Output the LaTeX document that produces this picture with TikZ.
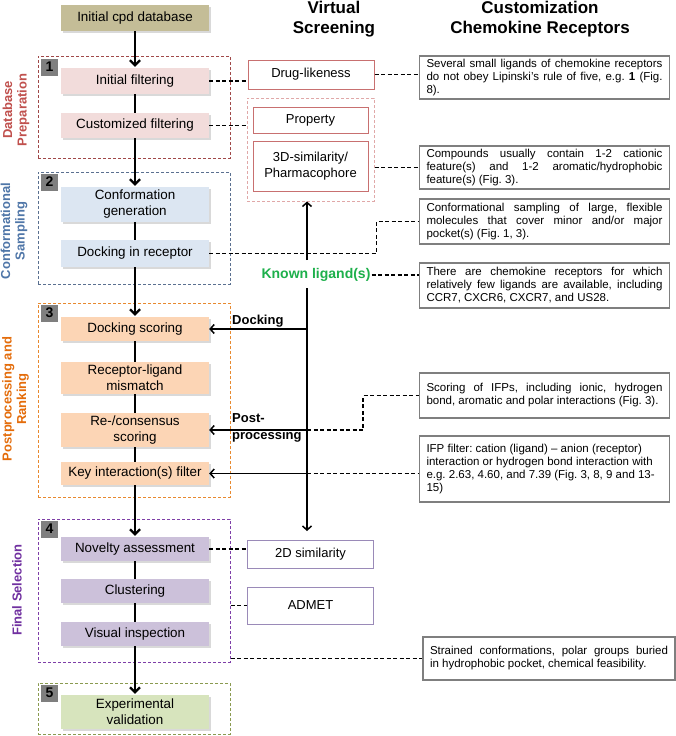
\documentclass[tikz,border=0pt]{standalone}
\usepackage{fontspec}
\setmainfont{Liberation Sans}
\usetikzlibrary{arrows.meta,shadows,calc}
\definecolor{dbfill}{HTML}{C4BD97}
\definecolor{fillA}{HTML}{F2DCDB}
\definecolor{fillB}{HTML}{DCE6F2}
\definecolor{fillC}{HTML}{FCD5B5}
\definecolor{fillD}{HTML}{CCC1DA}
\definecolor{fillE}{HTML}{D7E4BD}
\definecolor{frA}{HTML}{A04848}
\definecolor{frB}{HTML}{5A7090}
\definecolor{frC}{HTML}{E8892F}
\definecolor{frD}{HTML}{7E3FA8}
\definecolor{frE}{HTML}{8A9A50}
\definecolor{labA}{HTML}{C0504D}
\definecolor{labB}{HTML}{4F76A8}
\definecolor{labC}{HTML}{E46C0A}
\definecolor{labD}{HTML}{7030A0}
\definecolor{vsred}{HTML}{C87070}
\definecolor{vspink}{HTML}{E0A8A8}
\definecolor{vspurple}{HTML}{9A8AB8}
\definecolor{kgreen}{HTML}{1DB04B}
\definecolor{notegray}{HTML}{7F7F7F}
\definecolor{badgegray}{HTML}{7F7F7F}
\newcommand\jline[2][236pt]{\makebox[#1][s]{\spaceskip=0pt\xspaceskip=0pt\relax #2}}
\newcommand\ntx{\spaceskip=0pt\xspaceskip=0pt\frenchspacing\relax}
\begin{document}
\begin{tikzpicture}[x=1pt,y=-1pt,
  mainbox/.style={fill=#1, minimum width=148pt, font=\fontsize{13.4}{16}\selectfont, align=center, inner sep=1pt,
    drop shadow={shadow xshift=1.5pt,shadow yshift=-1.5pt,fill=black,opacity=0.15}},
  frame/.style={draw=#1, line width=1pt, dash pattern=on 3pt off 2pt, minimum width=192pt, inner sep=0pt},
  badge/.style={fill=badgegray, minimum width=17pt, minimum height=17pt, inner sep=0pt, font=\fontsize{14}{14}\selectfont\bfseries},
  vsbox/.style={draw=#1, line width=1pt, fill=white, minimum width=126pt, align=center, inner sep=1pt, font=\fontsize{13}{16}\selectfont},
  note/.style={draw=notegray, line width=1.5pt, fill=white, inner xsep=7pt, inner ysep=2pt, text width=236pt, font=\fontsize{11.5}{13}\selectfont, align=left},
  flow/.style={line width=2.2pt, -{Straight Barb[length=5pt,width=10pt]}, shorten >=1pt},
  plain/.style={line width=2.2pt},
  midarrow/.style={line width=1.5pt, -{Straight Barb[length=4pt,width=9pt]}},
  dashline/.style={line width=1.2pt, dash pattern=on 4pt off 2.5pt},
  sidelab/.style={rotate=90, align=center, font=\fontsize{13}{14.5}\selectfont\bfseries},
  lbl/.style={font=\fontsize{13}{17}\selectfont\bfseries, inner sep=1pt}
]
\useasboundingbox (0,0) rectangle (676,736);
\fill[white] (0,0) rectangle (676,736);

% titles
\node[font=\fontsize{17}{20}\selectfont\bfseries, align=center] (tvs) at (334,19) {Virtual\\Screening};
\node[font=\fontsize{17}{20}\selectfont\bfseries, align=center] (tcc) at (540,19) {Customization\\Chemokine Receptors};

% frames
\node[frame=frA, minimum height=102pt] (F1) at (134,107) {};
\node[frame=frB, minimum height=112pt] (F2) at (134,228) {};
\node[frame=frC, minimum height=194pt] (F3) at (134,400) {};
\node[frame=frD, minimum height=143pt] (F4) at (134,590.5) {};
\node[frame=frE, minimum height=51pt] (F5) at (134,708.5) {};

% badges
\node[badge] (b1) at (49.5,67) {1};
\node[badge] (b2) at (49.5,182) {2};
\node[badge] (b3) at (49.5,313) {3};
\node[badge] (b4) at (49.5,529) {4};
\node[badge] (b5) at (49.5,693) {5};

% side labels
\node[sidelab, text=labA] (l1) at (16,110) {Database\\Preparation};
\node[sidelab, text=labB] (l2) at (14,231) {Conformational\\Sampling};
\node[sidelab, text=labC] (l3) at (15.5,399) {Postprocessing and\\Ranking};
\node[sidelab, text=labD] (l4) at (17,590) {Final Selection};

% main boxes
\node[mainbox=dbfill, minimum height=26pt] (db) at (135,18) {Initial cpd database};
\node[mainbox=fillA, minimum height=26pt] (f1) at (135,81) {Initial filtering};
\node[mainbox=fillA, minimum height=25pt] (f2) at (135,125.5) {Customized filtering};
\node[mainbox=fillB, minimum height=35pt] (c1) at (135,204.5) {Conformation\\generation};
\node[mainbox=fillB, minimum height=27pt] (c2) at (135,253.5) {Docking in receptor};
\node[mainbox=fillC, minimum height=24pt] (p1) at (135,329) {Docking scoring};
\node[mainbox=fillC, minimum height=32pt] (p2) at (135,378) {Receptor-ligand\\mismatch};
\node[mainbox=fillC, minimum height=34pt] (p3) at (135,430) {Re-/consensus\\scoring};
\node[mainbox=fillC, minimum height=23pt] (p4) at (135,473.5) {Key interaction(s) filter};
\node[mainbox=fillD, minimum height=24pt] (s1) at (135,549) {Novelty assessment};
\node[mainbox=fillD, minimum height=24pt] (s2) at (135,591) {Clustering};
\node[mainbox=fillD, minimum height=24pt] (s3) at (135,634) {Visual inspection};
\node[mainbox=fillE, minimum height=34pt] (ev) at (135,712) {Experimental\\validation};

% main flow
\draw[flow] (db.south) -- (f1.north);
\draw[plain] (f1.south) -- (f2.north);
\draw[flow] (f2.south) -- (c1.north);
\draw[plain] (c1.south) -- (c2.north);
\draw[flow] (c2.south) -- (p1.north);
\draw[plain] (p1.south) -- (p2.north);
\draw[plain] (p2.south) -- (p3.north);
\draw[plain] (p3.south) -- (p4.north);
\draw[flow] (p4.south) -- (s1.north);
\draw[plain] (s1.south) -- (s2.north);
\draw[plain] (s2.south) -- (s3.north);
\draw[flow] (s3.south) -- (ev.north);

% virtual screening column
\node[vsbox=vsred, minimum height=29pt] (dl) at (311,74.5) {Drug-likeness};
\node[draw=vspink, line width=1pt, dash pattern=on 3pt off 2pt, minimum width=127pt, minimum height=103pt, inner sep=0pt] (vsg) at (310.5,149.5) {};
\node[vsbox=vsred, minimum width=115pt, minimum height=26pt] (prop) at (310.5,120) {Property};
\node[vsbox=vsred, minimum width=115pt, minimum height=50pt] (sim) at (310.5,166) {3D-similarity/\\Pharmacophore};
\node[vsbox=vspurple, minimum height=28pt] (twoD) at (310.5,554) {2D similarity};
\node[vsbox=vspurple, minimum height=37pt] (admet) at (310.5,605.5) {ADMET};
\node[font=\fontsize{14}{14}\selectfont\bfseries, text=kgreen, inner sep=1pt] (known) at (316,275) {Known ligand(s)};

\node[lbl, anchor=west] (ldock) at (231,321) {Docking};
\node[lbl, anchor=west, align=left] (lpost) at (231,428) {Post-\\processing};

% notes
\node[note, minimum height=43pt] (n1) at (544.5,77.5) {\ntx\jline{Several small ligands of chemokine receptors}\\\jline{do not obey Lipinski's rule of five, e.g. \textbf{1} (Fig.}\\8).};
\node[note, minimum height=43pt] (n2) at (544.5,167.5) {\ntx\jline{Compounds usually contain 1-2 cationic}\\\jline{feature(s) and 1-2 aromatic/hydrophobic}\\feature(s) (Fig. 3).};
\node[note, minimum height=45pt] (n3) at (544.5,221.5) {\ntx\jline{Conformational sampling of large, flexible}\\\jline{molecules that cover minor and/or major}\\pocket(s) (Fig. 1, 3).};
\node[note, minimum height=45pt] (n4) at (544.5,285.5) {\ntx\jline{There are chemokine receptors for which}\\\jline{relatively few ligands are available, including}\\CCR7, CXCR6, CXCR7, and US28.};
\node[note, minimum height=45pt] (n5) at (544.5,395.5) {\ntx\jline{Scoring of IFPs, including ionic, hydrogen}\\bond, aromatic and polar interactions (Fig. 3).};
\node[note, minimum height=66pt] (n6) at (544.5,469) {\ntx IFP filter: cation (ligand) -- anion (receptor)\\interaction or hydrogen bond interaction with\\e.g. 2.63, 4.60, and 7.39 (Fig. 3, 8, 9 and 13-\\15)};
\node[note, text width=238pt, minimum height=43pt] (n7) at (549,658.5) {\ntx\jline[238pt]{Strained conformations, polar groups buried}\\in hydrophobic pocket, chemical feasibility.};

% coordinates of the vertical line
\coordinate (vt) at (307,260);
\coordinate (vb) at (307,288);
\coordinate (ve) at (307,531);

% dashed connectors
\draw[dashline] (f1.east) -- (f1.east -| dl.west);
\draw[dashline] (f2.east) -- (f2.east -| vsg.west);
\draw[dashline] (dl.east) -- (dl.east -| n1.west);
\draw[dashline] (vsg.east |- n2.west) -- (n2.west);
\draw[dashline] (c2.east) -- ++(167,0) |- (n3.west);
\draw[dashline] (known.east) -- (known.east -| n4.west);
\draw[dashline] (vb |- p3.east) -- ++(56,0) |- (n5.west);
\draw[dashline] (vb |- p4.east) -- (p4.east -| n6.west);
\draw[dashline] (s1.east) -- (s1.east -| twoD.west);
\draw[dashline] (F4.east |- admet.west) -- (admet.west);
\draw[dashline] (F4.east |- n7.west) -- (n7.west);

% solid middle connectors
\draw[midarrow] (vt) -- (vt |- vsg.south);
\draw[midarrow] (vb) -- (ve);
\draw[midarrow] (vb |- p1.east) -- (p1.east);
\draw[midarrow] (vb |- p3.east) -- (p3.east);
\draw[midarrow] (vb |- p4.east) -- (p4.east);
\end{tikzpicture}
\end{document}
